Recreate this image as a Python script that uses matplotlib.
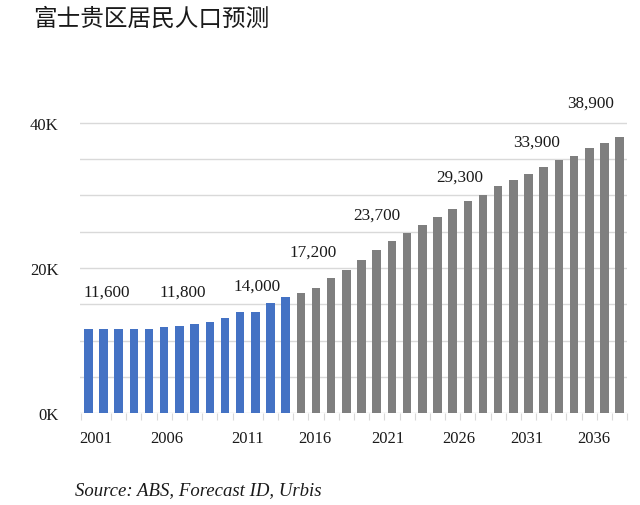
import matplotlib.pyplot as plt

plt.rcParams['font.family'] = ['Liberation Serif', 'Noto Sans CJK SC']

# population per year (thousands), blue = history, gray = forecast
hist_years = list(range(2001, 2015))
hist_vals = [11.6, 11.6, 11.6, 11.6, 11.6, 11.8, 12.0, 12.3, 12.6, 13.1,
             14.0, 14.0, 15.2, 16.0]
fc_years = list(range(2015, 2037))
fc_vals = [16.6, 17.2, 18.6, 19.7, 21.1, 22.5, 23.7, 24.8, 25.9, 27.0,
           28.1, 29.3, 30.1, 31.3, 32.1, 32.9, 33.9, 34.9, 35.5, 36.6,
           37.2, 38.0]

label_text = ['11,600', '11,800', '14,000', '17,200', '23,700', '29,300',
              '33,900', '38,900']
year_labels = ['2001', '2006', '2011', '2016', '2021', '2026', '2031', '2036']

fig = plt.figure(figsize=(6.4, 5.06), dpi=100)
ax = fig.add_axes([0.125, 0.1818, 0.855, 0.6448])

ax.bar(hist_years, hist_vals, width=0.56, color='#4472C4', zorder=3)
ax.bar(fc_years, fc_vals, width=0.56, color='#7F7F7F', zorder=3)

# data labels sit a little above/left of the bars, as in the original
lab_x = [2002.2, 2007.2, 2012.1, 2015.8, 2020.0, 2025.5, 2030.5, 2034.1]
lab_y = [16.8, 16.8, 17.5, 22.3, 27.4, 32.6, 37.4, 42.8]
for x, y, t in zip(lab_x, lab_y, label_text):
    ax.text(x, y, t, ha='center', va='center', fontsize=12.3,
            color='#1a1a1a', zorder=4)

ax.set_xlim(2000.45, 2036.5)
ax.set_ylim(0, 45)

ax.set_yticks(range(0, 45, 5))
ax.set_yticklabels(['0K', '', '', '', '20K', '', '', '', '40K'])
ax.yaxis.grid(True, color='#D9D9D9', linewidth=1.0, zorder=0)
ax.tick_params(axis='y', length=0, pad=15.5, labelsize=12, labelcolor='#1a1a1a')

tick_pos = [2001.5, 2006.2, 2011.5, 2015.9, 2020.7, 2025.4, 2029.9, 2034.3]
ax.set_xticks(tick_pos)
ax.set_xticklabels(year_labels)
ax.set_xticks([y - 0.5 for y in hist_years + fc_years] + [2036.5], minor=True)
ax.tick_params(axis='x', which='major', length=0, pad=12, labelsize=12,
               labelcolor='#1a1a1a')
ax.tick_params(axis='x', which='minor', length=5, color='#D9D9D9', width=0.8)

for s in ax.spines.values():
    s.set_visible(False)

fig.text(0.052, 0.963, '富士贵区居民人口预测', fontsize=17, style='italic',
         weight='light', family=['Noto Sans CJK SC', 'DejaVu Sans'],
         color='#1a1a1a', ha='left', va='center')
fig.text(0.117, 0.031, 'Source: ABS, Forecast ID, Urbis', fontsize=13.5,
         style='italic', color='#1a1a1a', ha='left', va='center')

fig.savefig('out.png', dpi=100)
